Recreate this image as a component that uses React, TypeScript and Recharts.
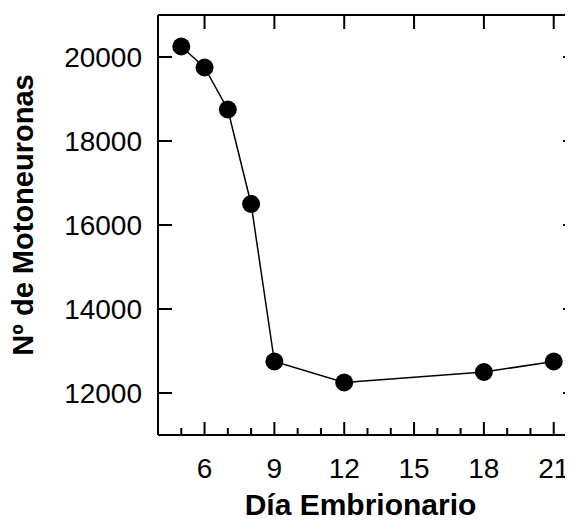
import { LineChart, Line, XAxis, YAxis } from "recharts";

const days = [5, 6, 7, 8, 9, 12, 18, 21];
const motoneurons = [20250, 19750, 18750, 16500, 12750, 12250, 12500, 12750];

const xMajorTicks = [6, 9, 12, 15, 18, 21];
const xAllTicks = [5, 6, 7, 8, 9, 10, 11, 12, 13, 14, 15, 16, 17, 18, 19, 20, 21];
const yTicks = [12000, 14000, 16000, 18000, 20000];

const data = days.map((d, i) => ({ day: d, value: motoneurons[i] }));

const FONT = "'Liberation Sans', Arial, sans-serif";
const INK = "#000";
const FRAME_W = 2;

// layout: plot area edges in svg coords
const CHART_W = 575;
const CHART_H = 512;
const TOP_H = 7;
const RIGHT_W = 6;
const PLOT_TOP = TOP_H;
const PLOT_RIGHT = CHART_W - RIGHT_W;

function BottomTick(props: any) {
  const { x, y, payload } = props;
  const major = xMajorTicks.includes(payload.value);
  return (
    <g>
      <line x1={x} x2={x} y1={y} y2={y - (major ? 13 : 7)} stroke={INK} strokeWidth={FRAME_W} />
      {major && (
        <>
          <line x1={x} x2={x} y1={PLOT_TOP} y2={PLOT_TOP + 14} stroke={INK} strokeWidth={FRAME_W} />
          <text x={x} y={y + 43} textAnchor="middle" fontSize={28} fontFamily={FONT} fill={INK}>
            {payload.value}
          </text>
        </>
      )}
    </g>
  );
}

function LeftTick(props: any) {
  const { x, y, payload } = props;
  return (
    <g>
      <line x1={x} x2={x + 14} y1={y} y2={y} stroke={INK} strokeWidth={FRAME_W} />
      <line x1={PLOT_RIGHT} x2={PLOT_RIGHT - 14} y1={y} y2={y} stroke={INK} strokeWidth={FRAME_W} />
      <text x={x - 16} y={y} dy="0.36em" textAnchor="end" fontSize={28} fontFamily={FONT} fill={INK}>
        {payload.value}
      </text>
    </g>
  );
}

function XLabel(props: any) {
  const { x, y, width } = props.viewBox;
  return (
    <text x={x + width / 2 - 7} y={y + 80} textAnchor="middle" fontSize={30} fontWeight="bold" fontFamily={FONT} fill={INK}>
      Día Embrionario
    </text>
  );
}

function YLabel() {
  return (
    <text
      x={25}
      y={207}
      transform="rotate(-90, 25, 207)"
      textAnchor="middle"
      fontSize={29}
      fontWeight="bold"
      fontFamily={FONT}
      fill={INK}
    >
      Nº de Motoneuronas
    </text>
  );
}

export default function App() {
  return (
    <div style={{ width: 565, height: CHART_H, overflow: "hidden" }}>
      <LineChart width={CHART_W} height={CHART_H} data={data} margin={{ top: 0, right: 0, bottom: 0, left: 0 }}>
        <XAxis
          xAxisId="bottom"
          dataKey="day"
          type="number"
          domain={[4, 22]}
          ticks={xAllTicks}
          interval={0}
          height={85}
          tickSize={0}
          tickMargin={0}
          tickLine={false}
          tick={BottomTick}
          axisLine={{ stroke: INK, strokeWidth: FRAME_W }}
          allowDataOverflow
          label={{ content: XLabel }}
        />
        <XAxis
          xAxisId="top"
          orientation="top"
          type="number"
          domain={[4, 22]}
          height={TOP_H}
          tick={false}
          tickLine={false}
          axisLine={{ stroke: INK, strokeWidth: FRAME_W }}
          allowDataOverflow
        />
        <YAxis
          yAxisId="left"
          type="number"
          domain={[11000, 21000]}
          ticks={yTicks}
          interval={0}
          width={150}
          tickSize={0}
          tickMargin={0}
          tickLine={false}
          tick={LeftTick}
          axisLine={{ stroke: INK, strokeWidth: FRAME_W }}
          allowDataOverflow
          label={{ content: YLabel }}
        />
        <YAxis
          yAxisId="right"
          orientation="right"
          type="number"
          domain={[11000, 21000]}
          width={RIGHT_W}
          tick={false}
          tickLine={false}
          axisLine={{ stroke: INK, strokeWidth: FRAME_W }}
          allowDataOverflow
        />
        <Line
          xAxisId="bottom"
          yAxisId="left"
          dataKey="value"
          stroke={INK}
          strokeWidth={1.5}
          dot={{ r: 9, fill: INK, stroke: INK, strokeWidth: 0 }}
          isAnimationActive={false}
        />
      </LineChart>
    </div>
  );
}
